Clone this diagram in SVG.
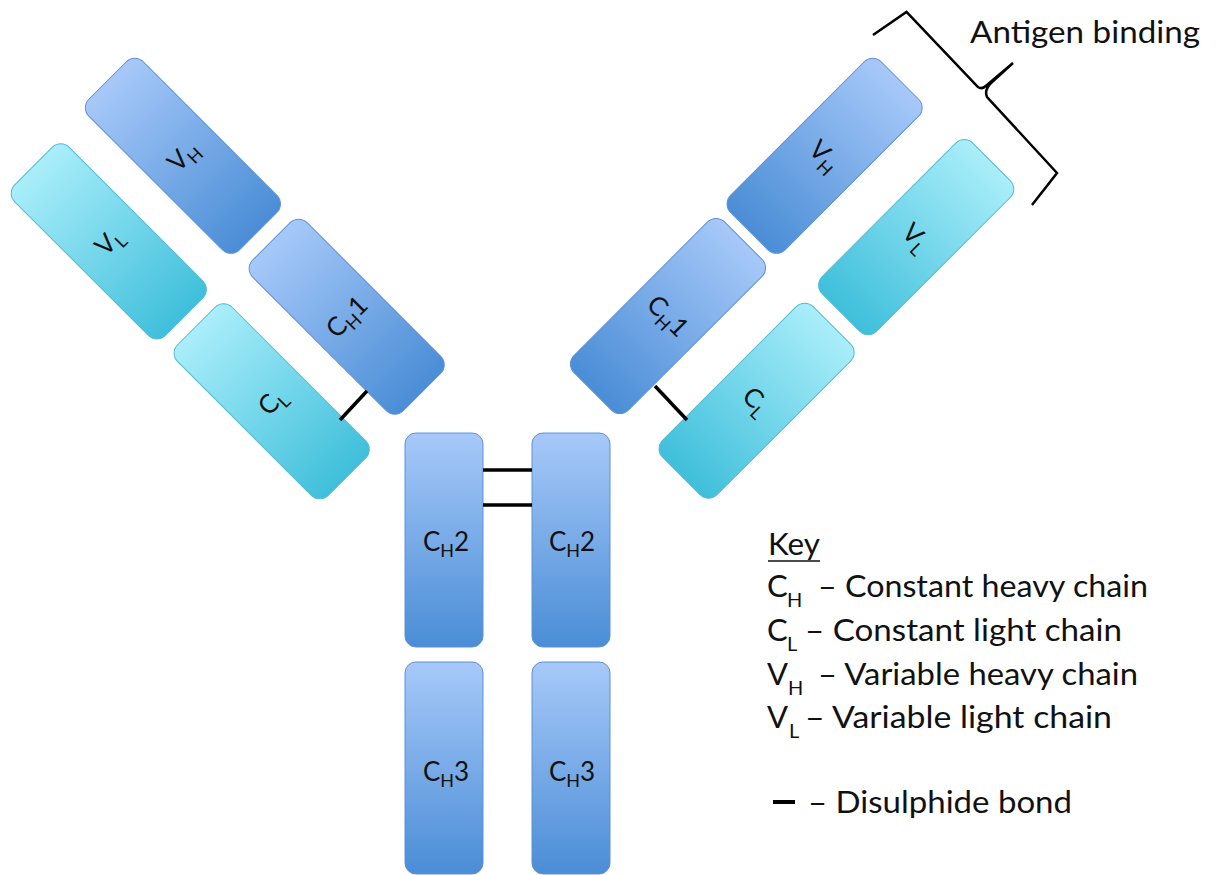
<svg xmlns="http://www.w3.org/2000/svg" width="1220" height="875" viewBox="0 0 1220 875">
<defs>
<linearGradient id="gH" x1="0" y1="0" x2="0" y2="1">
<stop offset="0" stop-color="#a7c9f9"/><stop offset="1" stop-color="#4a8dd6"/>
</linearGradient>
<linearGradient id="gL" x1="0" y1="0" x2="0" y2="1">
<stop offset="0" stop-color="#aaeefa"/><stop offset="1" stop-color="#3fbfdb"/>
</linearGradient>
<style>
.h{fill:url(#gH);stroke:#5f90d8;stroke-width:1}
.l{fill:url(#gL);stroke:#52bad5;stroke-width:1}
.lbl{font-family:Lato,"Liberation Sans",sans-serif;font-size:26px;fill:#111;text-anchor:middle}
.sub{font-size:18px}
.key{font-family:Lato,"Liberation Sans",sans-serif;font-size:31px;fill:#111}
.ksub{font-size:20px}
.bond{stroke:#000;stroke-width:3.5;fill:none}
</style>
</defs>
<rect width="1220" height="875" fill="#fff"/>

<g id="left-VL" transform="translate(108.8,241.4) rotate(-45)">
<rect class="l" x="-38.5" y="-106.5" width="77" height="213" rx="12"/>
<text class="lbl" x="0" y="9">V<tspan class="sub" dy="6">L</tspan></text>
</g>
<g id="left-VH" transform="translate(182.9,155.8) rotate(-45)">
<rect class="h" x="-38.5" y="-106.5" width="77" height="213" rx="12"/>
<text class="lbl" x="0" y="9">V<tspan class="sub" dy="6">H</tspan></text>
</g>
<g id="left-CH1" transform="translate(346.7,316.7) rotate(-45)">
<rect class="h" x="-38.5" y="-106.5" width="77" height="213" rx="12"/>
<text class="lbl" x="0" y="9">C<tspan class="sub" dy="6">H</tspan><tspan dy="-6">1</tspan></text>
</g>
<g id="left-CL" transform="translate(271.7,401.3) rotate(-45)">
<rect class="l" x="-38.5" y="-106.5" width="77" height="213" rx="12"/>
<text class="lbl" x="0" y="9">C<tspan class="sub" dy="6">L</tspan></text>
</g>

<g id="right-VH" transform="translate(824.6,155.8) rotate(45)">
<rect class="h" x="-38.5" y="-106.5" width="77" height="213" rx="12"/>
<text class="lbl" x="0" y="9">V<tspan class="sub" dy="6">H</tspan></text>
</g>
<g id="right-VL" transform="translate(916.2,237.1) rotate(45)">
<rect class="l" x="-38.5" y="-106.5" width="77" height="213" rx="12"/>
<text class="lbl" x="0" y="9">V<tspan class="sub" dy="6">L</tspan></text>
</g>
<g id="right-CH1" transform="translate(668,316) rotate(45)">
<rect class="h" x="-38.5" y="-106.5" width="77" height="213" rx="12"/>
<text class="lbl" x="0" y="9">C<tspan class="sub" dy="6">H</tspan><tspan dy="-6">1</tspan></text>
</g>
<g id="right-CL" transform="translate(756.6,400.7) rotate(45)">
<rect class="l" x="-38.5" y="-106.5" width="77" height="213" rx="12"/>
<text class="lbl" x="0" y="9">C<tspan class="sub" dy="6">L</tspan></text>
</g>

<g id="left-CH2">
<rect class="h" x="405" y="433" width="78" height="214" rx="11"/>
<text class="lbl" x="446" y="551">C<tspan class="sub" dy="6">H</tspan><tspan dy="-6">2</tspan></text>
</g>
<g id="right-CH2">
<rect class="h" x="532" y="433" width="78" height="214" rx="11"/>
<text class="lbl" x="572" y="551">C<tspan class="sub" dy="6">H</tspan><tspan dy="-6">2</tspan></text>
</g>
<g id="left-CH3">
<rect class="h" x="405" y="662" width="78" height="212" rx="11"/>
<text class="lbl" x="446" y="781">C<tspan class="sub" dy="6">H</tspan><tspan dy="-6">3</tspan></text>
</g>
<g id="right-CH3">
<rect class="h" x="532" y="662" width="78" height="212" rx="11"/>
<text class="lbl" x="572" y="781">C<tspan class="sub" dy="6">H</tspan><tspan dy="-6">3</tspan></text>
</g>

<g id="connectors">
<line class="bond" x1="483" y1="470" x2="532" y2="470"/>
<line class="bond" x1="483" y1="505" x2="532" y2="505"/>
<line class="bond" x1="367" y1="391" x2="340" y2="420"/>
<line class="bond" x1="655" y1="386" x2="687" y2="420"/>
</g>

<g id="antigen-binding">
<path d="M873,35 L906.5,12 L978,87 Q982,90 987,85 L1013,63 M1013,63 L991,83 Q984,90 987,97 L1057,173 L1032,205" fill="none" stroke="#000" stroke-width="2.5" stroke-linejoin="miter"/>
<text class="key" x="970" y="43" textLength="230" lengthAdjust="spacingAndGlyphs">Antigen binding</text>
</g>

<g id="key">
<text class="key" x="768" y="555" textLength="52" lengthAdjust="spacingAndGlyphs">Key</text>
<line x1="768" y1="561" x2="820" y2="561" stroke="#111" stroke-width="1.5"/>

<text class="key" x="767" y="597">C<tspan class="ksub" x="787" y="607">H</tspan></text>
<text class="key" x="818" y="597" textLength="330" lengthAdjust="spacingAndGlyphs">– Constant heavy chain</text>

<text class="key" x="767" y="641">C<tspan class="ksub" x="787" y="651">L</tspan></text>
<text class="key" x="805" y="641" textLength="317" lengthAdjust="spacingAndGlyphs">– Constant light chain</text>

<text class="key" x="767" y="685">V<tspan class="ksub" x="788" y="695">H</tspan></text>
<text class="key" x="818" y="685" textLength="320" lengthAdjust="spacingAndGlyphs">– Variable heavy chain</text>

<text class="key" x="767" y="728">V<tspan class="ksub" x="789" y="738">L</tspan></text>
<text class="key" x="805" y="728" textLength="307" lengthAdjust="spacingAndGlyphs">– Variable light chain</text>

<line x1="773" y1="802" x2="795" y2="802" stroke="#000" stroke-width="4"/>
<text class="key" x="808" y="813" textLength="264" lengthAdjust="spacingAndGlyphs">– Disulphide bond</text>
</g>
</svg>
